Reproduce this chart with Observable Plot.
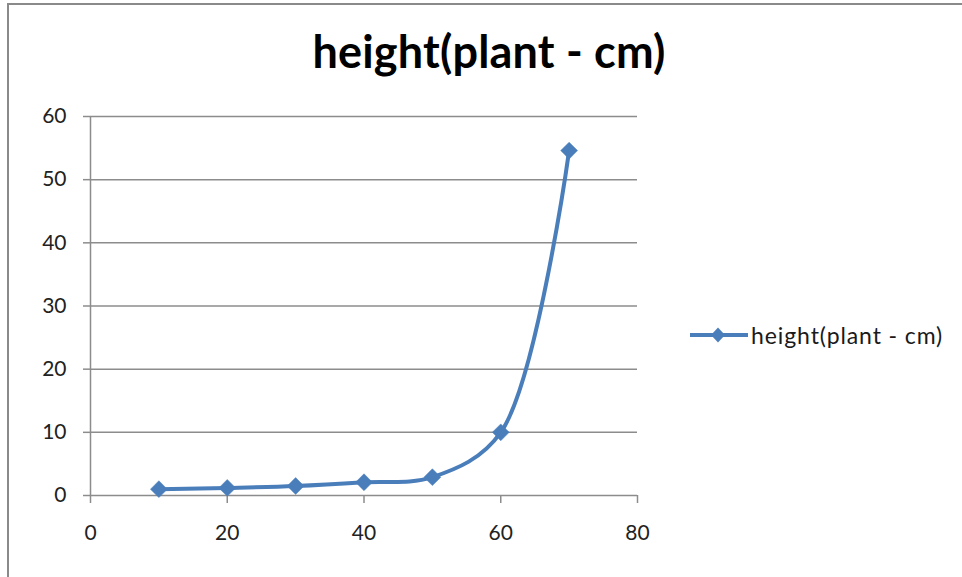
<!DOCTYPE html>
<html>
<head>
<meta charset="utf-8">
<script src="https://cdn.jsdelivr.net/npm/d3@7"></script>
<script src="https://cdn.jsdelivr.net/npm/@observablehq/plot@0.6"></script>
<style>
  html, body { margin: 0; padding: 0; background: #fff; }
  #wrap { position: relative; width: 962px; height: 577px; overflow: hidden; font-family: Lato, "Open Sans", sans-serif; }
  #frame { position: absolute; left: 7px; top: 3px; width: 970px; height: 600px; border-top: 2px solid #8a8a8a; border-left: 2px solid #8a8a8a; box-sizing: border-box; }
  #title { position: absolute; left: 0; width: 978px; top: 26px; line-height: 50px; text-align: center; font-size: 45px; font-weight: bold; color: #000; letter-spacing: 0.2px; }
  #legend { position: absolute; left: 690px; top: 320px; display: flex; align-items: center; font-size: 23px; color: #1a1a1a; letter-spacing: 0.9px; }
  #chart { position: absolute; left: 0; top: 0; }
</style>
</head>
<body>
<div id="wrap">
  <div id="frame"></div>
  <div id="chart"></div>
  <div id="title">height(plant - cm)</div>
  <div id="legend"><svg width="60" height="30"><line x1="0" y1="15" x2="58" y2="15" stroke="#4a7ebb" stroke-width="4"/><path d="M28,7.5 L35,15 L28,22.5 L21,15 Z" fill="#4a7ebb"/></svg><span style="margin-left:1px">height(plant - cm)</span></div>
</div>
<script>
const xValues = [10, 20, 30, 40, 50, 60, 70];
const heights = [1.0, 1.2, 1.5, 2.1, 2.9, 10.0, 54.6];
const xTicks = [0, 20, 40, 60, 80];
const yTicks = [0, 10, 20, 30, 40, 50, 60];
const seriesName = "height(plant - cm)";

const data = xValues.map((x, i) => ({x, y: heights[i]}));
const blue = "#4a7ebb";
const grid = "#8c8c8c";

const chart = Plot.plot({
  width: 962,
  height: 577,
  marginLeft: 90,
  marginRight: 325,
  marginTop: 116,
  marginBottom: 82,
  style: {fontFamily: "Lato, 'Open Sans', sans-serif", fontSize: "21px", color: "#222", background: "transparent"},
  x: {domain: [0, 80], ticks: xTicks, label: null},
  y: {domain: [0, 60], ticks: yTicks, label: null},
  marks: [
    Plot.ruleY(yTicks, {stroke: grid, strokeWidth: 1.5, strokeOpacity: 1}),
    Plot.ruleX([0], {stroke: grid, strokeWidth: 1.5}),
    Plot.axisY({ticks: yTicks, tickSize: 7, tickPadding: 17, stroke: grid, strokeWidth: 1.5, strokeOpacity: 1, fontSize: 21, label: null}),
    Plot.axisX({ticks: xTicks, tickSize: 8, tickPadding: 22, stroke: grid, strokeWidth: 1.5, strokeOpacity: 1, fontSize: 21, label: null}),
    Plot.line(data, {x: "x", y: "y", curve: "catmull-rom", stroke: blue, strokeWidth: 4}),
    Plot.dot(data, {x: "x", y: "y", symbol: "diamond2", r: 7.6, fill: blue, stroke: blue, strokeWidth: 0.5})
  ]
});
document.getElementById("chart").appendChild(chart);
</script>
</body>
</html>
